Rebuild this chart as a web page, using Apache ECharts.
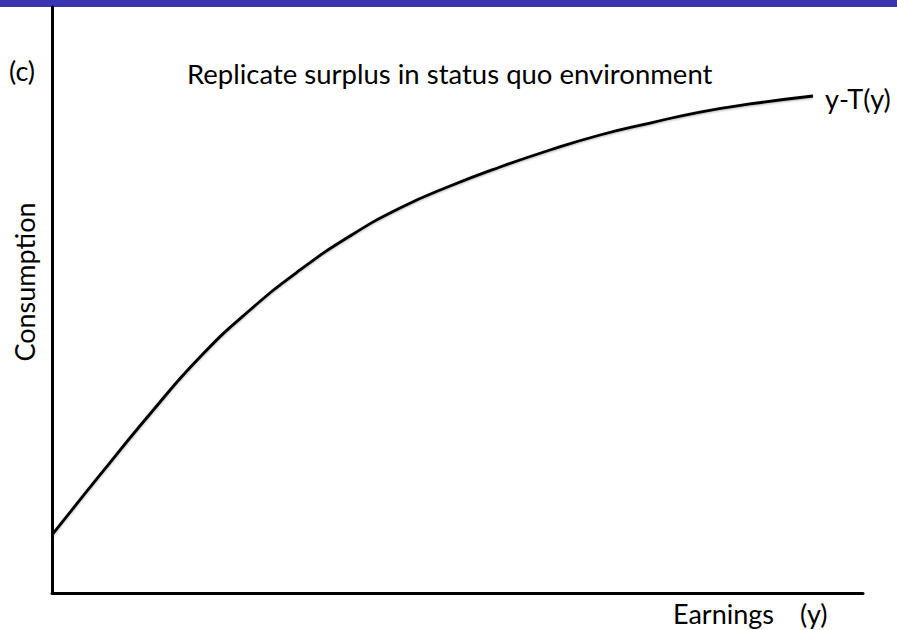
<!DOCTYPE html>
<html>
<head>
<meta charset="utf-8">
<script src="https://cdn.jsdelivr.net/npm/echarts@6/dist/echarts.min.js"></script>
<style>
html,body{margin:0;padding:0;background:#fff;}
#chart{width:897px;height:630px;}
</style>
</head>
<body>
<div id="chart"></div>
<script>
// Earnings (y), arbitrary units 0-100
var earnings = [0, 5.92, 12.08, 18.25, 24.41, 30.58, 36.74, 42.91, 49.08, 55.24, 61.41, 67.57, 73.74, 79.9, 86.07, 93.83];
// Consumption y - T(y), arbitrary units 0-100
var consumption = [9.9, 20.14, 30.55, 40.27, 48.29, 55.12, 60.92, 65.7, 69.45, 72.7, 75.6, 78.16, 80.2, 82.08, 83.45, 84.81];

var titleText = 'Replicate surplus in status quo environment';
var curveLabel = 'y-T(y)';
var xName = 'Earnings';
var xSymbol = '(y)';
var yName = 'Consumption';
var panelLabel = '(c)';

var pts = earnings.map(function (x, i) { return [x, consumption[i]]; });
var font = 'Lato';
var fs = 27;

var chart = echarts.init(document.getElementById('chart'), null, { renderer: 'svg' });
chart.setOption({
  animation: false,
  backgroundColor: '#ffffff',
  grid: { left: 52, top: 7, right: 34, bottom: 37 },
  xAxis: {
    type: 'value', min: 0, max: 100,
    axisLine: { show: true, onZero: false, lineStyle: { color: '#000', width: 3 } },
    axisTick: { show: false }, axisLabel: { show: false }, splitLine: { show: false }
  },
  yAxis: {
    type: 'value', min: 0, max: 100,
    axisLine: { show: true, onZero: false, lineStyle: { color: '#000', width: 3 } },
    axisTick: { show: false }, axisLabel: { show: false }, splitLine: { show: false }
  },
  series: [{
    type: 'line',
    data: pts,
    smooth: 0.5,
    symbol: 'none',
    lineStyle: { color: '#000', width: 2.8, shadowColor: 'rgba(0,0,0,0.3)', shadowBlur: 2, shadowOffsetY: 1 },
    endLabel: {
      show: true, formatter: curveLabel, color: '#000',
      fontFamily: font, fontSize: fs, distance: 12, offset: [0, 2]
    }
  }],
  graphic: [
    { type: 'rect', left: 0, top: 0, shape: { width: 897, height: 7 }, style: { fill: '#3935b1' } },
    { type: 'text', x: 9, y: 70, style: { text: panelLabel, fill: '#000', font: fs + 'px ' + font, verticalAlign: 'middle' } },
    { type: 'text', x: 187, y: 73, style: { text: titleText, fill: '#000', font: '27.5px ' + font, verticalAlign: 'middle' } },
    { type: 'text', x: 673, y: 613, style: { text: xName, fill: '#000', font: fs + 'px ' + font, verticalAlign: 'middle' } },
    { type: 'text', x: 800, y: 613, style: { text: xSymbol, fill: '#000', font: fs + 'px ' + font, verticalAlign: 'middle' } },
    { type: 'text', x: 24, y: 282, rotation: Math.PI / 2,
      style: { text: yName, fill: '#000', font: fs + 'px ' + font, align: 'center', verticalAlign: 'middle' } }
  ]
});
</script>
</body>
</html>
